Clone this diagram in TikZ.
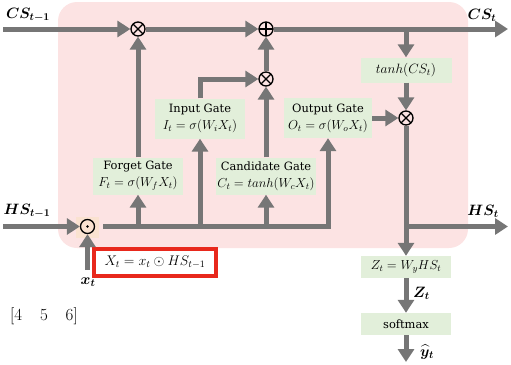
\RequirePackage{fix-cm}
\documentclass[tikz,border=0pt]{standalone}
\usepackage{amsmath,amssymb}
\usepackage{fontspec}
\newfontfamily\gtfont{DejaVu Serif}[Scale=0.88]
\usetikzlibrary{arrows.meta,calc}
\definecolor{pinkbg}{RGB}{252,227,227}
\definecolor{gatebg}{RGB}{226,239,218}
\definecolor{arrgray}{RGB}{118,118,118}
\definecolor{peachbg}{RGB}{250,226,208}
\definecolor{redbox}{RGB}{232,40,28}
\begin{document}
\begin{tikzpicture}[x=1pt,y=-1pt,
  arr/.style={draw=arrgray, line width=5pt, line join=miter, -{Triangle[width=16pt,length=13pt]}},
  gate/.style={fill=gatebg, inner sep=1pt, align=center, font=\fontsize{13}{17}\selectfont},
  op/.style={circle, draw=black, line width=1.3pt, minimum size=14pt, inner sep=0pt},
  otimes/.style={op, path picture={\draw[line width=1.2pt] (path picture bounding box.north west)--(path picture bounding box.south east) (path picture bounding box.north east)--(path picture bounding box.south west);}},
  oplus/.style={op, path picture={\draw[line width=1.2pt] (path picture bounding box.north)--(path picture bounding box.south) (path picture bounding box.east)--(path picture bounding box.west);}},
  odot/.style={op, path picture={\fill (path picture bounding box.center) circle (1.3pt);}},
  lbl/.style={font=\fontsize{15}{17}\selectfont\boldmath, inner sep=0pt}
]
\useasboundingbox (0,0) rectangle (511,364);
% background
\fill[pinkbg, rounded corners=19pt] (58,2) rectangle (468,248);
\fill[peachbg] (76,217) rectangle (99,238);

% coordinates
\coordinate (csin) at (3,29);
\coordinate (csout) at (508,29);
\coordinate (br1) at (406,29);
\coordinate (hsin) at (3,226.5);
\coordinate (hsout) at (508,226.5);
\coordinate (xin) at (87.5,270);
\coordinate (yout) at (406,362);

% operators
\node[otimes] (m1) at (138,29) {};
\node[oplus]  (a1) at (266,29) {};
\node[otimes] (m2) at (266,79) {};
\node[otimes] (m3) at (406,118) {};
\node[odot]   (d)  at (87.5,226.5) {};

% gates
\node[gate, minimum width=90pt, minimum height=37pt] (fg) at (138,176) {{\gtfont Forget Gate}\\ $F_t = \sigma(W_fX_t)$};
\node[gate, minimum width=90pt, minimum height=40pt] (ig) at (200,118.5) {{\gtfont Input Gate}\\ $I_t = \sigma(W_iX_t)$};
\node[gate, minimum width=100pt, minimum height=37pt] (cg) at (266,176) {{\gtfont Candidate Gate}\\ $C_t = tanh(W_cX_t)$};
\node[gate, minimum width=88pt, minimum height=40pt] (og) at (328,118) {{\gtfont Output Gate}\\ $O_t = \sigma(W_oX_t)$};
\node[gate, minimum width=91pt, minimum height=25pt, font=\fontsize{13.5}{15}\selectfont] (th) at (406,70) {$tanh(CS_t)$};
\node[gate, minimum width=90pt, minimum height=22pt] (zb) at (406,267) {$Z_t = W_yHS_t$};
\node[gate, minimum width=90pt, minimum height=22pt] (sm) at (406,324) {{\gtfont softmax}};

% red box
\node[draw=redbox, line width=3.5pt, fill=white, minimum width=122pt, minimum height=27pt, inner sep=2pt, font=\fontsize{14}{16}\selectfont] (xeq) at (155,262.5) {$X_t = x_t \odot HS_{t-1}$};

% labels
\node[lbl] (lcsin) at (28,15) {$CS_{t-1}$};
\node[lbl] (lcsout) at (482,15) {$CS_t$};
\node[lbl] (lhsin) at (27,211) {$HS_{t-1}$};
\node[lbl] (lhsout) at (483,211) {$HS_t$};
\node[lbl] (lx) at (88,282) {$x_t$};
\node[lbl, anchor=west] (lz) at (413,293) {$Z_t$};
\node[lbl, anchor=west] (ly) at (420,352) {$\widehat{y}_t$};
\node[font=\fontsize{17}{19}\selectfont, inner sep=0pt] (vec) at (44,316) {$[4\hspace{1.05em}5\hspace{1.05em}6]$};

% connectors
\draw[arr] (csin) -- (m1);
\draw[arr] (m1) -- (a1);
\draw[arr] (a1) -- (csout);
\draw[arr] (br1) -- (th);
\draw[arr] (th) -- (m3);
\draw[arr] (og) -- (m3);
\draw[arr] (m3) -- (zb);
\draw[arr] (m3 |- hsout) -- (hsout);
\draw[arr] (fg) -- (m1);
\draw[arr] (ig.north) |- (m2);
\draw[arr] (cg) -- (m2);
\draw[arr] (m2) -- (a1);
\draw[arr] (hsin) -- (d);
\draw[arr] (xin) -- (d);
\draw[arr, shorten <=8pt] (d) -- (og |- d) -- (og);
\draw[arr] (fg |- d) -- (fg);
\draw[arr] (ig |- d) -- (ig);
\draw[arr] (cg |- d) -- (cg);
\draw[arr] (zb) -- (sm);
\draw[arr] (sm) -- (yout);
\end{tikzpicture}
\end{document}
